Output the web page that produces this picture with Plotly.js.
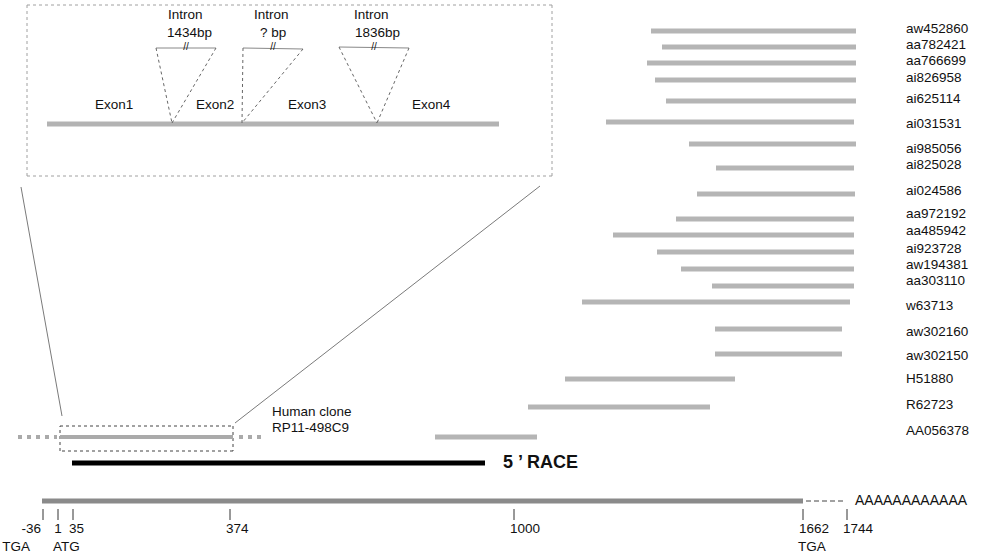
<!DOCTYPE html>
<html><head><meta charset="utf-8">
<script src="https://cdn.plot.ly/plotly-3.0.1.min.js"></script>
<style>html,body{margin:0;padding:0;background:#fff}#chart{width:989px;height:556px}</style>
</head><body><div id="chart"></div>
<script>
// ---- EST clones (schematic x units of the drawing, row position) ----
const estNames = ['aw452860','aa782421','aa766699','ai826958','ai625114','ai031531','ai985056','ai825028','ai024586','aa972192','aa485942','ai923728','aw194381','aa303110','w63713','aw302160','aw302150','H51880','R62723','AA056378'];
const estStart = [651,662,647,655,666,606,689,716,697,676,613,657,681,712,582,715,715,565,528,435];
const estEnd   = [856,856,856,856,856,854,856,854,855,854,854,854,854,854,850,842,842,735,710,537];
const estRow   = [31,47,63,80,101,122,144,168,194,219,235,252,269,286,302,329,354,379,407,437];
const estLabelRow = [30,46,62,79,100,125,150,166,192,215,232,250,266,282,307,333,357,380,406,432];

// ---- cDNA ruler ----
const rulerTicks = ['-36','1','35','374','1000','1662','1744'];
const rulerPos   = [43,58,73,230,514,803,847];
const codonNames = ['TGA','ATG','TGA'];
const codonTick  = [0,1,5];

// ---- gene structure inset ----
const exonNames = ['Exon1','Exon2','Exon3','Exon4'];
const exonPos   = [95,196,288,412];
const intronSizes = ['1434bp','? bp','1836bp'];
const intronLeft  = [156,243,339];
const intronRight = [216,303,409];
const intronSplice = [172,242,377];

const FONT = 'Liberation Sans, Arial, sans-serif';
const traces = [];
function segs(x0s, x1s, y0s, y1s, line) {
  const x = [], y = [];
  for (let i = 0; i < x0s.length; i++) { x.push(x0s[i], x1s[i], null); y.push(y0s[i], y1s[i], null); }
  traces.push({type:'scatter', mode:'lines', x, y, line, hoverinfo:'skip', showlegend:false});
}
function texts(xs, ys, t, size, anchor) {
  traces.push({type:'scatter', mode:'text', x:xs, y:ys, text:t, textposition: anchor,
    textfont:{family:FONT, size:size, color:'#111'}, hoverinfo:'skip', showlegend:false});
}

// inset box
segs([27,552,552,27],[552,552,27,27],[5,5,176,176],[5,176,176,5],{color:'#a0a0a0', width:1, dash:'dot'});
// inset gene bar
segs([47],[499],[124],[124],{color:'#b3b3b3', width:5});
// intron triangles: top lines
segs(intronLeft, intronRight, [48,48,47], [48,49,48], {color:'#888', width:1});
// triangle sides
segs(intronLeft.concat(intronRight), intronSplice.concat(intronSplice),
     [48,48,47,48,49,48], [123,123,123,123,123,123], {color:'#666', width:1, dash:'dot'});
// zoom connector lines
segs([21,540],[62,235],[187,186],[416,423],{color:'#7a7a7a', width:1});
// clone box
segs([60,233,233,60],[233,233,60,60],[426,426,451,451],[426,451,451,426],{color:'#444', width:1, dash:'dot'});
segs([60],[233],[437],[437],{color:'#aaaaaa', width:4});
segs([18,239],[57,262],[437,437],[437,437],{color:'#aaaaaa', width:4, dash:'4px,5px'});
// 5' RACE
segs([72],[485],[463],[463],{color:'#000', width:5});
// EST bars
segs(estStart, estEnd, estRow, estRow, {color:'#b5b5b5', width:5});
// ruler
segs([42],[803],[501],[501],{color:'#8a8a8a', width:5});
segs([806],[845],[501],[501],{color:'#444', width:1, dash:'5px,3px'});
segs(rulerPos, rulerPos, rulerPos.map(()=>509), rulerPos.map(()=>520), {color:'#333', width:1});

// labels
texts(estNames.map(()=>906), estLabelRow, estNames, 13.5, 'middle right');
texts(exonPos, exonPos.map(()=>106), exonNames, 13.5, 'middle right');
texts([168,254,354], [16,16,16], ['Intron','Intron','Intron'], 13.5, 'middle right');
texts([167,260,355], [34,34,34], intronSizes, 13.5, 'middle right');
texts(intronLeft.map((l,i)=>(l+intronRight[i])/2), [47,47,47], ['//','//','//'], 10, 'middle center');
texts([272,272],[413,429],['Human clone','RP11-498C9'], 13.5, 'middle right');
texts([503],[463],['<b>5 \u2019 RACE</b>'], 18, 'middle right');
texts([855],[501],['AAAAAAAAAAAA'], 14, 'middle right');
// ruler tick labels
const lblX = rulerPos.map((p,i)=> i===0 ? p-2 : (i===1 ? p : p-4));
const lblPos = rulerPos.map((p,i)=> i===0 ? 'middle left' : (i===1 ? 'middle center' : 'middle right'));
rulerTicks.forEach((t,i)=> texts([lblX[i]],[530],[t],13.5,lblPos[i]));
codonNames.forEach((c,i)=>{
  const p = rulerPos[codonTick[i]];
  if (i===0) texts([p-13],[548],[c],13.5,'middle left');
  else texts([p-5],[548],[c],13.5,'middle right');
});

const layout = {
  width:989, height:556, margin:{l:0,r:0,t:0,b:0},
  paper_bgcolor:'#fff', plot_bgcolor:'#fff', showlegend:false,
  xaxis:{range:[0,989], visible:false, fixedrange:true},
  yaxis:{range:[556,0], visible:false, fixedrange:true},
};
Plotly.newPlot('chart', traces, layout, {staticPlot:true});
</script></body></html>
